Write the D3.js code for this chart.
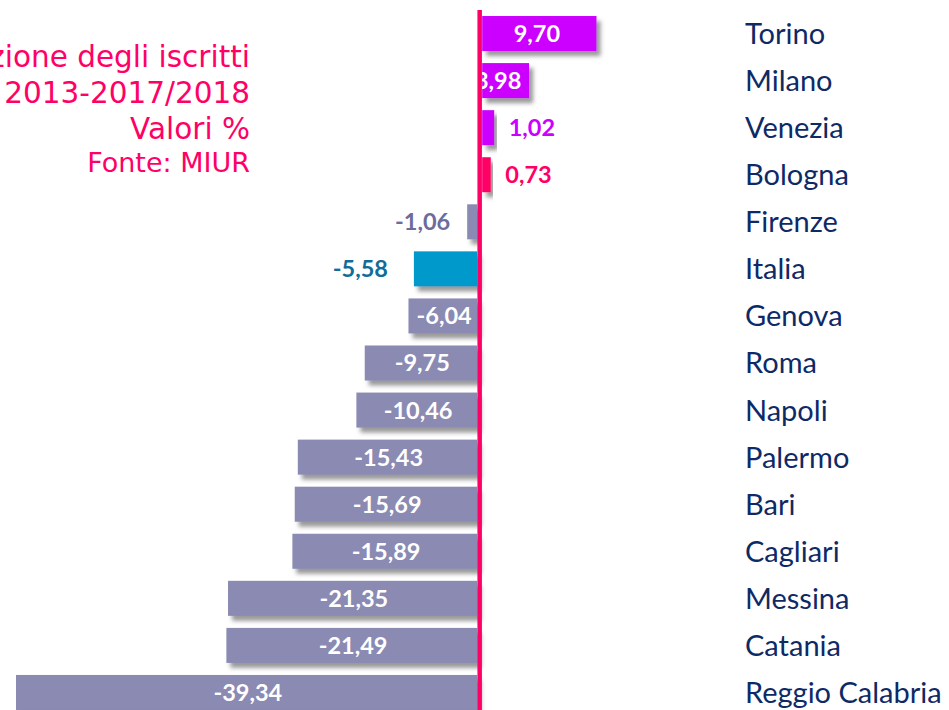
<!DOCTYPE html>
<html>
<head>
<meta charset="utf-8">
<script src="https://cdn.jsdelivr.net/npm/d3@7"></script>
<style>
  body { margin: 0; background: #fff; }
  svg { display: block; }
</style>
</head>
<body>
<svg id="chart" width="949" height="710"></svg>
<script>
// values
const cities = ["Torino", "Milano", "Venezia", "Bologna", "Firenze", "Italia", "Genova", "Roma",
  "Napoli", "Palermo", "Bari", "Cagliari", "Messina", "Catania", "Reggio Calabria"];
const values = [9.70, 3.98, 1.02, 0.73, -1.06, -5.58, -6.04, -9.75,
  -10.46, -15.43, -15.69, -15.89, -21.35, -21.49, -39.34];
const labelInside = [true, true, false, false, false, false, true, true,
  true, true, true, true, true, true, true];
const titleLines = ["Variazione degli iscritti", "2013-2017/2018", "Valori %", "Fonte: MIUR"];

const data = cities.map((c, i) => ({ city: c, value: values[i], inside: labelInside[i] }));

const svg = d3.select("#chart");

const defs = svg.append("defs");
const f = defs.append("filter").attr("id", "shadow")
  .attr("x", "-10%").attr("y", "-30%").attr("width", "130%").attr("height", "180%");
f.append("feDropShadow").attr("dx", 4).attr("dy", 5).attr("stdDeviation", 2.2)
  .attr("flood-color", "#555").attr("flood-opacity", 0.6);

const x = d3.scaleLinear().domain([-39.34, 9.70]).range([16, 594]);
const y = d3.scaleBand().domain(cities).range([10, 716]).paddingInner(0.256).paddingOuter(0.128);

function barColor(d) {
  if (d.city === "Italia") return "#0099CC";
  if (d.city === "Bologna") return "#FF0066";
  if (d.value > 0) return "#CC00FF";
  return "#8A8AB2";
}
function outColor(d) {
  if (d.city === "Italia") return "#106C98";
  if (d.city === "Bologna") return "#FF0066";
  if (d.value > 0) return "#CC00FF";
  return "#6C6C9C";
}
const fmt = v => v.toFixed(2).replace(".", ",");

// bars
svg.append("g").selectAll("rect")
  .data(data)
  .join("rect")
  .attr("x", d => d.value >= 0 ? x(0) + 2.5 : x(d.value))
  .attr("y", d => y(d.city))
  .attr("width", d => Math.abs(x(d.value) - x(0)) - (d.value >= 0 ? 0 : 2.5))
  .attr("height", y.bandwidth())
  .attr("fill", barColor)
  .attr("filter", "url(#shadow)");

// value labels
svg.append("g").selectAll("text")
  .data(data)
  .join("text")
  .attr("x", d => {
    if (d.inside) return (x(d.value) + x(0)) / 2 - (d.city === "Milano" ? 5 : 0);
    return d.value >= 0 ? x(d.value) + 17 : x(d.value) - (d.city === "Italia" ? 26 : 17);
  })
  .attr("y", d => y(d.city) + y.bandwidth() / 2)
  .attr("dy", "0.36em")
  .attr("text-anchor", d => d.inside ? "middle" : (d.value >= 0 ? "start" : "end"))
  .attr("font-family", "Lato, 'Open Sans', sans-serif")
  .attr("font-weight", "bold")
  .attr("font-size", "23.5px")
  .attr("fill", d => d.inside ? "#fff" : outColor(d))
  .text(d => fmt(d.value));

// zero line
svg.append("line")
  .attr("x1", x(0)).attr("x2", x(0))
  .attr("y1", 10).attr("y2", 710)
  .attr("stroke", "#FF0066").attr("stroke-width", 4.5);

// city names
svg.append("g").selectAll("text")
  .data(data)
  .join("text")
  .attr("x", 745)
  .attr("y", d => y(d.city) + y.bandwidth() / 2)
  .attr("dy", "0.36em")
  .attr("font-family", "Lato, 'Open Sans', sans-serif")
  .attr("font-size", "29px")
  .attr("fill", "#0E2A66")
  .text(d => d.city);

// title block (cut off at the left like the original)
const tSizes = [29.5, 29.5, 29.5, 27];
const tBase = [67, 103, 139, 172];
svg.append("g").selectAll("text")
  .data(titleLines)
  .join("text")
  .attr("x", 250)
  .attr("y", (d, i) => tBase[i])
  .attr("text-anchor", "end")
  .attr("font-family", "'DejaVu Sans', Verdana, sans-serif")
  .attr("font-size", (d, i) => tSizes[i] + "px")
  .attr("fill", "#FF0066")
  .text(d => d);
</script>
</body>
</html>
